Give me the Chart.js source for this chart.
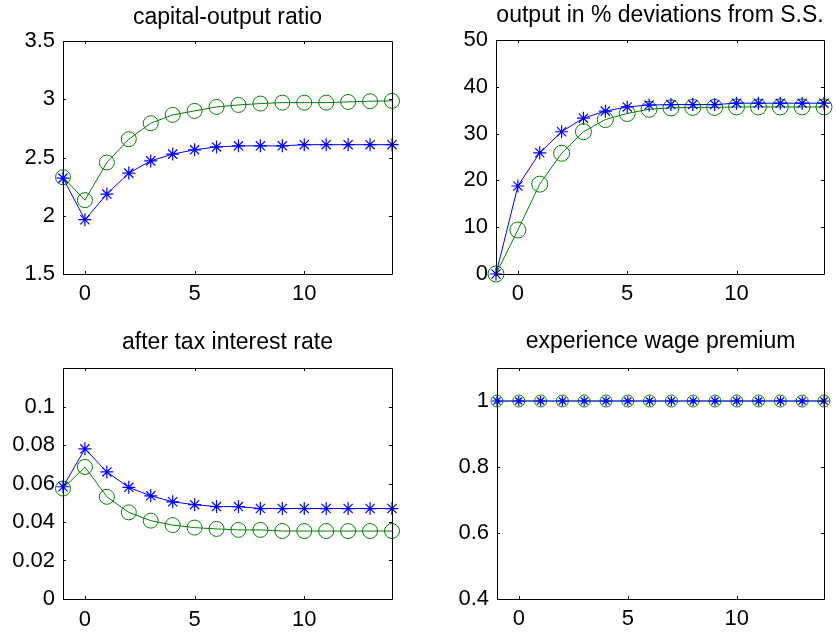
<!DOCTYPE html>
<html>
<head>
<meta charset="utf-8">
<script src="https://cdn.jsdelivr.net/npm/chart.js@4/dist/chart.umd.min.js"></script>
<style>
  html, body { margin: 0; padding: 0; background: #fff; }
  #fig { position: relative; width: 837px; height: 633px; background: #fff; overflow: hidden; }
  .cell { position: absolute; }
</style>
</head>
<body>
<div id="fig">
  <div class="cell" style="left:0;top:0;"><canvas id="c1" width="418" height="316"></canvas></div>
  <div class="cell" style="left:420px;top:0;"><canvas id="c2" width="417" height="316"></canvas></div>
  <div class="cell" style="left:0;top:316px;"><canvas id="c3" width="418" height="317"></canvas></div>
  <div class="cell" style="left:420px;top:316px;"><canvas id="c4" width="417" height="317"></canvas></div>
</div>
<script>
// ---- data ----
const periods = [-1, 0, 1, 2, 3, 4, 5, 6, 7, 8, 9, 10, 11, 12, 13, 14];
const xTicks = [0, 5, 10];

const titles = ["capital-output ratio", "output in % deviations from S.S.", "after tax interest rate", "experience wage premium"];

const capBlue  = [2.323, 1.966, 2.186, 2.366, 2.471, 2.529, 2.566, 2.591, 2.600, 2.600, 2.600, 2.610, 2.610, 2.610, 2.610, 2.610];
const capGreen = [2.330, 2.134, 2.457, 2.657, 2.794, 2.866, 2.900, 2.934, 2.951, 2.963, 2.971, 2.971, 2.971, 2.977, 2.983, 2.986];
const capYTicks = [1.5, 2, 2.5, 3, 3.5];

const outBlue  = [0, 18.8, 25.9, 30.4, 33.3, 34.8, 35.7, 36.1, 36.2, 36.2, 36.2, 36.5, 36.5, 36.5, 36.5, 36.5];
const outGreen = [0, 9.4, 19.2, 25.8, 30.4, 33.0, 34.3, 35.2, 35.5, 35.6, 35.6, 35.7, 35.7, 35.7, 35.7, 35.7];
const outYTicks = [0, 10, 20, 30, 40, 50];

const rateBlue  = [0.0583, 0.0780, 0.0660, 0.0580, 0.0536, 0.0505, 0.0490, 0.0480, 0.0480, 0.0470, 0.0470, 0.0470, 0.0470, 0.0470, 0.0470, 0.0470];
const rateGreen = [0.0574, 0.0686, 0.0531, 0.0450, 0.0407, 0.0384, 0.0371, 0.0364, 0.0359, 0.0359, 0.0353, 0.0353, 0.0353, 0.0353, 0.0353, 0.0353];
const rateYTicks = [0, 0.02, 0.04, 0.06, 0.08, 0.1];

const wageBlue  = [1, 1, 1, 1, 1, 1, 1, 1, 1, 1, 1, 1, 1, 1, 1, 1];
const wageGreen = [1, 1, 1, 1, 1, 1, 1, 1, 1, 1, 1, 1, 1, 1, 1, 1];
const wageYTicks = [0.4, 0.6, 0.8, 1];

// ---- styling ----
const BLUE = '#0000ff';
const GREEN = '#008000';
const FONT = 'Liberation Sans, Arial, sans-serif';

const boxPlugin = {
  id: 'matlabBox',
  afterDatasetsDraw(chart) {
    const { ctx, chartArea: a, scales } = chart;
    ctx.save();
    ctx.strokeStyle = '#000';
    ctx.lineWidth = 1;
    ctx.beginPath();
    ctx.rect(Math.round(a.left) + 0.5, Math.round(a.top) + 0.5, Math.round(a.right - a.left), Math.round(a.bottom - a.top));
    ctx.stroke();
    const tl = 3;
    ctx.beginPath();
    scales.x.ticks.forEach(t => {
      const px = Math.round(scales.x.getPixelForValue(t.value)) + 0.5;
      ctx.moveTo(px, a.bottom); ctx.lineTo(px, a.bottom - tl);
      ctx.moveTo(px, a.top); ctx.lineTo(px, a.top + tl);
    });
    scales.y.ticks.forEach(t => {
      const py = Math.round(scales.y.getPixelForValue(t.value)) + 0.5;
      ctx.moveTo(a.left, py); ctx.lineTo(a.left + tl, py);
      ctx.moveTo(a.right, py); ctx.lineTo(a.right - tl, py);
    });
    ctx.stroke();
    ctx.restore();
  }
};

function series(vals) { return periods.map((p, i) => ({ x: p, y: vals[i] })); }

function makeChart(id, cfg) {
  const canvas = document.getElementById(id);
  const W = canvas.width, H = canvas.height;
  const titleSize = 23;
  const titleLH = titleSize * 1.2;
  new Chart(canvas, {
    type: 'line',
    data: {
      datasets: [
        {
          data: series(cfg.blue), borderColor: BLUE, borderWidth: 1,
          pointStyle: 'star', pointRadius: cfg.starR, pointBorderColor: BLUE, pointBorderWidth: 1.2,
          pointBackgroundColor: BLUE, fill: false, tension: 0, clip: false
        },
        {
          data: series(cfg.green), borderColor: cfg.greenLine || GREEN, borderWidth: 1,
          pointStyle: 'circle', pointRadius: cfg.circR, pointBorderColor: GREEN, pointBorderWidth: 1,
          pointBackgroundColor: 'rgba(0,0,0,0)', fill: false, tension: 0, clip: false
        }
      ]
    },
    options: {
      responsive: false,
      animation: false,
      events: [],
      layout: { padding: { left: 0, right: W - cfg.right, top: 0, bottom: 0 } },
      plugins: {
        legend: { display: false },
        tooltip: { enabled: false },
        title: {
          display: true, text: cfg.title, fullSize: false, color: '#000',
          font: { family: FONT, size: titleSize, weight: 'normal', lineHeight: 1.2 },
          padding: { top: cfg.titleY - titleLH / 2, bottom: cfg.top - (cfg.titleY - titleLH / 2) - titleLH }
        }
      },
      scales: {
        x: {
          type: 'linear', min: -1, max: 14,
          grid: { display: false, drawTicks: false },
          border: { display: false },
          ticks: { color: '#000', padding: cfg.xPad, autoSkip: false, maxRotation: 0,
                   font: { family: FONT, size: 22 }, callback: v => String(v) },
          afterBuildTicks: s => { s.ticks = xTicks.map(v => ({ value: v })); },
          afterFit: s => { s.height = H - cfg.bottom; }
        },
        y: {
          type: 'linear', min: cfg.ymin, max: cfg.ymax,
          grid: { display: false, drawTicks: false },
          border: { display: false },
          ticks: { color: '#000', padding: 8, autoSkip: false,
                   font: { family: FONT, size: 22 }, callback: v => String(v) },
          afterBuildTicks: s => { s.ticks = cfg.yTicks.map(v => ({ value: v })); },
          afterFit: s => { s.width = cfg.left; }
        }
      }
    },
    plugins: [boxPlugin]
  });
}

makeChart('c1', { title: titles[0], blue: capBlue, green: capGreen, yTicks: capYTicks, ymin: 1.5, ymax: 3.5,
  left: 63, right: 392, top: 41, bottom: 274, titleY: 17.5, xPad: 7, starR: 6.5, circR: 7.5 });
makeChart('c2', { title: titles[1], blue: outBlue, green: outGreen, yTicks: outYTicks, ymin: 0, ymax: 50,
  left: 76, right: 404, top: 40, bottom: 274, titleY: 16, xPad: 7, starR: 6.5, circR: 8 });
makeChart('c3', { title: titles[2], blue: rateBlue, green: rateGreen, yTicks: rateYTicks, ymin: 0, ymax: 0.12,
  left: 63, right: 392, top: 52, bottom: 283, titleY: 27, xPad: 8, starR: 6.5, circR: 7.5 });
makeChart('c4', { title: titles[3], blue: wageBlue, green: wageGreen, yTicks: wageYTicks, ymin: 0.4, ymax: 1.1,
  left: 77, right: 404, top: 52, bottom: 283, titleY: 26, xPad: 7, starR: 5, circR: 6,
  greenLine: 'rgba(0,128,0,0.7)' });
</script>
</body>
</html>
